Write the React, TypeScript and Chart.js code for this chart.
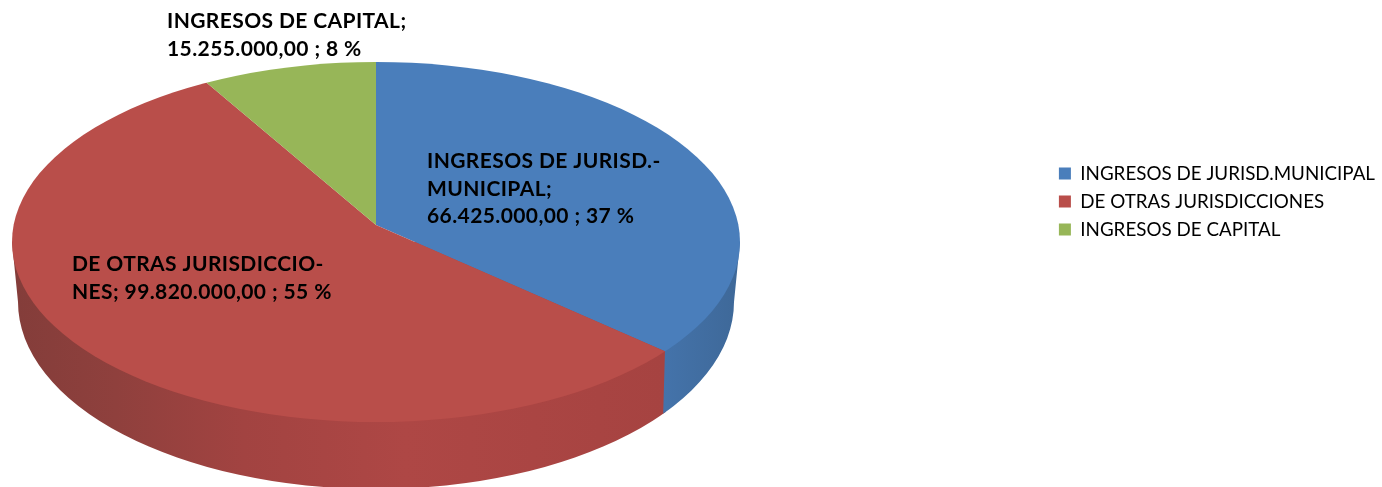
import React, { useEffect, useRef } from "react";
import { Chart, registerables } from "chart.js";

Chart.register(...registerables);

const categories = ["INGRESOS DE JURISD.MUNICIPAL", "DE OTRAS JURISDICCIONES", "INGRESOS DE CAPITAL"];
const values = [66425000, 99820000, 15255000];
const colors = ["#4A7EBB", "#B94E4A", "#97B658"];
const sliceLabels = [
  ["INGRESOS DE JURISD.-", "MUNICIPAL;", "66.425.000,00 ; 37 %"],
  ["DE OTRAS JURISDICCIO-", "NES; 99.820.000,00 ; 55 %"],
  ["INGRESOS DE CAPITAL;", "15.255.000,00 ; 8 %"],
];
const labelPositions = [
  [427, 168],
  [72, 271],
  [167, 28],
];

const APEX = { x: 376, y: 225 };
const TOP = { x: 376, y: 242, rx: 364, ry: 180 };
const LOW = { x: 376, y: 302, rx: 358, ry: 187 };
const WALL_SPLIT_X = 664;

const pie3d = {
  id: "pie3d",
  beforeDatasetsDraw(chart: any) {
    const ctx = chart.ctx;
    const hull = () => {
      ctx.beginPath();
      ctx.ellipse(LOW.x, LOW.y, LOW.rx, LOW.ry, 0, 0, Math.PI);
      ctx.lineTo(TOP.x - TOP.rx, TOP.y);
      ctx.lineTo(TOP.x + TOP.rx, TOP.y);
      ctx.closePath();
    };
    ctx.save();
    ctx.beginPath();
    ctx.rect(0, 0, WALL_SPLIT_X + 2, chart.height);
    ctx.clip();
    const red = ctx.createLinearGradient(18, 0, WALL_SPLIT_X, 0);
    red.addColorStop(0, "#843D3A");
    red.addColorStop(0.15, "#8F403D");
    red.addColorStop(0.35, "#A24341");
    red.addColorStop(0.6, "#AE4745");
    red.addColorStop(1, "#A64341");
    ctx.fillStyle = red;
    hull();
    ctx.fill();
    ctx.restore();

    ctx.save();
    ctx.beginPath();
    ctx.moveTo(WALL_SPLIT_X + 1, 350);
    ctx.lineTo(WALL_SPLIT_X - 1, 420);
    ctx.lineTo(chart.width, 420);
    ctx.lineTo(chart.width, 200);
    ctx.lineTo(WALL_SPLIT_X + 1, 200);
    ctx.closePath();
    ctx.clip();
    const blue = ctx.createLinearGradient(WALL_SPLIT_X, 0, 740, 0);
    blue.addColorStop(0, "#4473AA");
    blue.addColorStop(1, "#3E6898");
    ctx.fillStyle = blue;
    hull();
    ctx.fill();
    ctx.restore();

    const arc = chart.getDatasetMeta(0).data[0];
    const k = 420 / arc.outerRadius;
    ctx.save();
    ctx.beginPath();
    ctx.ellipse(TOP.x, TOP.y, TOP.rx, TOP.ry, 0, 0, Math.PI * 2);
    ctx.clip();
    ctx.translate(APEX.x, APEX.y);
    ctx.scale(k, k * 0.49);
    ctx.translate(-arc.x, -arc.y);
  },
  afterDatasetsDraw(chart: any) {
    const ctx = chart.ctx;
    ctx.restore();
    ctx.save();
    ctx.fillStyle = "#000000";
    ctx.font = "bold 21px Lato";
    ctx.letterSpacing = "0.4px";
    ctx.textBaseline = "alphabetic";
    sliceLabels.forEach((lines, i) => {
      lines.forEach((line, j) => {
        ctx.fillText(line, labelPositions[i][0], labelPositions[i][1] + j * 27.5);
      });
    });
    ctx.restore();
  },
};

export default function App() {
  const ref = useRef<HTMLCanvasElement>(null);
  useEffect(() => {
    const chart = new Chart(ref.current!, {
      type: "pie",
      data: {
        labels: categories,
        datasets: [{ data: values, backgroundColor: colors, borderWidth: 0, clip: false } as any],
      },
      options: {
        responsive: false,
        animation: false,
        layout: { padding: { bottom: 84, right: -3 } },
        plugins: {
          tooltip: { enabled: false },
          legend: {
            position: "right",
            labels: {
              boxWidth: 12,
              boxHeight: 12,
              padding: 9.2,
              color: "#000000",
              font: { family: "Lato", size: 18.8 },
            },
          },
        },
      },
      plugins: [pie3d],
    });
    return () => chart.destroy();
  }, []);
  return (
    <div style={{ position: "absolute", left: 0, top: 0, width: 1382, height: 487, overflow: "hidden", background: "#fff" }}>
      <canvas ref={ref} width={1382} height={487} style={{ display: "block" }} />
    </div>
  );
}
